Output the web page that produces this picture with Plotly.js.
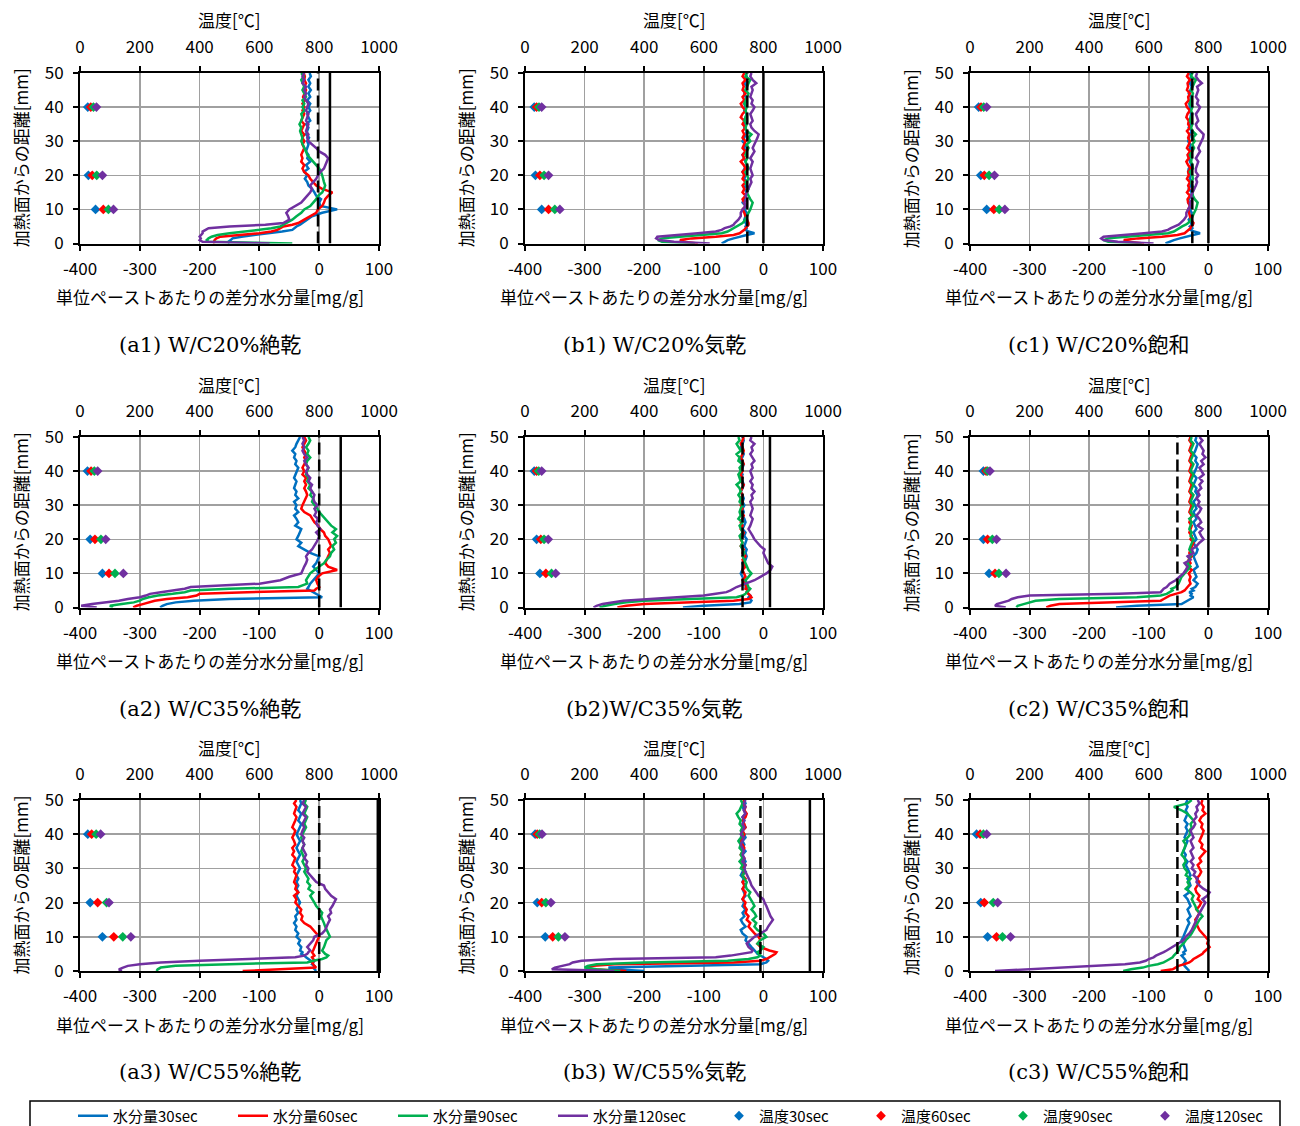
<!DOCTYPE html>
<html><head><meta charset="utf-8">
<script src="https://cdn.plot.ly/plotly-3.0.1.min.js"></script>
<style>body{margin:0;background:#fff}#chart{width:1300px;height:1126px}</style>
</head><body><div id="chart"></div>
<script>
// depth from heated surface [mm]
const depth = [0,0.5,1,1.5,2,2.5,3,3.5,4,4.5,5,5.5,6,
  7,8,9,10,11,12,13,14,15,16,17,
  18,19,20,21,22,23,24,25,26,27,28,
  29,30,31,32,33,34,35,36,37,38,39,
  40,41,42,43,44,45,46,47,48,49,50];
const tempDepth = [10, 20, 40];
const waterNames = ['水分量30sec','水分量60sec','水分量90sec','水分量120sec'];
const tempNames = ['温度30sec','温度60sec','温度90sec','温度120sec'];
const colors = ['#0070C0','#FF0000','#00B050','#7030A0'];
const captions = ['(a1) W/C20%絶乾','(b1) W/C20%気乾','(c1) W/C20%飽和',
                  '(a2) W/C35%絶乾','(b2)W/C35%気乾','(c2) W/C35%飽和',
                  '(a3) W/C55%絶乾','(b3) W/C55%気乾','(c3) W/C55%飽和'];
const topTitle = '温度[℃]';
const bottomTitle = '単位ペーストあたりの差分水分量[mg/g]';
const leftTitle = '加熱面からの距離[mm]';
const xTicksBottom = [-400,-300,-200,-100,0,100];
const xTicksTop = [0,200,400,600,800,1000];
const yTicks = [0,10,20,30,40,50];
// reference vertical lines [mg/g]
const refDash = [-2,-27,-27,0,-35,-52,0,-5,-52];
const refSolid = [18,0,0,36,11,0,98,78,0];
const refDepth = [0,50];

// ---------- a1 ----------
const a1_w30 = [-150,-152,-148,-145,-130,-105,-85,-62,-45,-42,-38,-32,-28,
 -20,-12,5,30,2,0,3,-5,-8,-12,-18,
 -20,-24,-20,-25,-18,-22,-15,-20,-18,-22,-20,
 -18,-20,-17,-22,-20,-18,-22,-15,-18,-20,-15,
 -18,-15,-20,-15,-18,-14,-18,-15,-18,-14,-16];
const a1_w60 = [-175,-176,-175,-172,-165,-130,-100,-80,-70,-65,-60,-45,-35,
 -25,-15,-5,-2,5,8,10,15,22,5,-5,
 -10,-15,-18,-25,-28,-25,-30,-28,-30,-28,-25,
 -28,-25,-28,-25,-30,-27,-25,-30,-28,-25,-28,
 -25,-28,-24,-27,-25,-22,-25,-22,-25,-24,-26];
const a1_w90 = [-45,-185,-188,-185,-180,-170,-150,-120,-100,-80,-65,-60,-55,
 -45,-38,-30,-25,-15,-10,-5,-2,5,8,10,
 8,7,5,3,0,-5,-10,-15,-20,-22,-25,
 -28,-30,-28,-30,-32,-30,-33,-30,-28,-30,-25,
 -28,-25,-28,-22,-25,-28,-25,-28,-30,-26,-30];
const a1_w120 = [-83,-195,-200,-198,-200,-198,-195,-195,-190,-185,-150,-90,-60,
 -50,-52,-55,-50,-40,-30,-25,-20,-15,-12,-15,
 -10,-5,-2,2,8,10,12,15,10,0,-5,
 -12,-18,-20,-18,-22,-20,-18,-22,-20,-18,-22,
 -20,-18,-22,-25,-22,-25,-22,-28,-25,-28,-25];
const a1_t30 = [52,28,26], a1_t60 = [78,41,36], a1_t90 = [95,56,45], a1_t120 = [112,75,55];

// ---------- b1 ----------
const b1_w30 = [-70,-65,-60,-50,-40,-28,-15,-25,-30,-28,-30,-28,-30,
 -32,-30,-28,-32,-30,-35,-32,-30,-28,-32,-30,
 -28,-32,-30,-35,-32,-28,-30,-32,-35,-30,-32,
 -30,-35,-32,-30,-28,-32,-30,-32,-30,-28,-32,
 -30,-32,-28,-30,-32,-30,-28,-32,-30,-28,-30];
const b1_w60 = [-110,-135,-140,-120,-80,-50,-40,-35,-32,-30,-28,-25,-25,
 -28,-30,-32,-35,-30,-33,-35,-30,-35,-32,-35,
 -30,-35,-32,-35,-30,-33,-38,-32,-35,-30,-35,
 -32,-30,-35,-32,-35,-30,-35,-32,-38,-35,-30,
 -35,-38,-32,-35,-30,-35,-33,-35,-30,-35,-32];
const b1_w90 = [-115,-170,-177,-170,-140,-100,-70,-60,-55,-52,-45,-40,-35,
 -30,-28,-25,-22,-20,-18,-22,-25,-28,-25,-28,
 -30,-25,-28,-30,-25,-28,-30,-27,-30,-28,-25,
 -28,-22,-25,-20,-28,-30,-28,-32,-30,-28,-30,
 -28,-32,-30,-28,-25,-30,-28,-25,-22,-30,-28];
const b1_w120 = [-90,-150,-175,-180,-178,-150,-110,-80,-70,-65,-55,-50,-48,
 -42,-38,-38,-35,-30,-32,-28,-30,-28,-25,-22,
 -20,-22,-18,-20,-22,-20,-18,-22,-18,-15,-18,
 -15,-12,-10,-8,-15,-20,-22,-18,-20,-22,-18,
 -15,-20,-18,-22,-20,-18,-20,-12,-18,-22,-20];
const b1_t30 = [56,35,31], b1_t60 = [79,50,39], b1_t90 = [100,64,47], b1_t120 = [117,79,56];

// ---------- c1 ----------
const c1_w30 = [-72,-66,-58,-48,-38,-26,-14,-24,-30,-27,-31,-28,-29,
 -33,-29,-28,-31,-30,-34,-33,-29,-28,-33,-30,
 -27,-31,-30,-34,-33,-28,-31,-32,-34,-30,-31,
 -30,-34,-32,-31,-28,-33,-30,-31,-30,-29,-32,
 -31,-32,-29,-30,-33,-30,-28,-31,-30,-29,-31];
const c1_w60 = [-108,-136,-142,-118,-78,-52,-40,-36,-33,-30,-29,-26,-25,
 -29,-31,-32,-34,-31,-34,-35,-31,-36,-32,-34,
 -31,-36,-33,-34,-30,-34,-37,-33,-35,-31,-36,
 -33,-31,-34,-32,-36,-31,-34,-33,-37,-35,-31,
 -36,-38,-33,-34,-31,-36,-34,-35,-31,-36,-33];
const c1_w90 = [-112,-168,-176,-168,-138,-98,-68,-58,-54,-50,-44,-38,-34,
 -29,-27,-24,-21,-19,-18,-23,-26,-27,-24,-27,
 -29,-26,-27,-31,-26,-27,-29,-28,-31,-27,-24,
 -27,-23,-26,-21,-27,-29,-27,-31,-29,-27,-29,
 -27,-31,-29,-27,-26,-29,-27,-24,-21,-29,-27];
const c1_w120 = [-92,-152,-176,-180,-176,-148,-108,-78,-68,-63,-55,-50,-47,
 -41,-37,-37,-34,-31,-31,-27,-29,-27,-24,-21,
 -19,-21,-17,-21,-21,-19,-17,-21,-17,-14,-17,
 -14,-11,-9,-8,-14,-19,-21,-17,-19,-21,-17,
 -14,-19,-17,-21,-19,-17,-19,-11,-17,-21,-19];
const c1_t30 = [56,36,29], c1_t60 = [80,48,37], c1_t90 = [98,64,46], c1_t120 = [117,82,56];

// ---------- a2 ----------
const a2_w30 = [-266,-262,-255,-240,-210,-150,5,0,-5,-10,-15,-20,-18,
 -15,-10,-5,0,-5,-10,-5,-2,0,-15,-25,
 -35,-30,-38,-35,-32,-30,-40,-35,-38,-42,-35,
 -40,-38,-42,-35,-40,-38,-42,-40,-38,-42,-40,
 -38,-35,-40,-38,-42,-40,-45,-40,-38,-35,-32];
const a2_w60 = [-311,-305,-295,-285,-275,-255,-220,-205,-200,-120,-8,-5,0,
 -3,-5,-2,5,30,15,10,12,15,18,15,
 20,18,15,10,8,2,-2,-8,-12,-15,-25,
 -30,-28,-25,-22,-20,-22,-25,-22,-25,-22,-28,
 -25,-28,-25,-22,-25,-22,-25,-28,-25,-22,-25];
const a2_w90 = [-345,-350,-330,-310,-300,-295,-285,-270,-245,-225,-215,-150,-35,
 -20,-22,-18,-15,-8,0,8,12,18,20,25,
 22,28,25,30,22,28,20,15,10,5,0,
 -3,-8,-12,-10,-15,-12,-18,-15,-20,-18,-22,
 -20,-18,-22,-20,-15,-20,-18,-22,-18,-15,-18];
const a2_w120 = [-372,-398,-380,-355,-335,-320,-300,-290,-283,-265,-240,-225,-215,
 -100,-65,-50,-30,-28,-25,-22,-20,-22,-18,-12,
 -8,-5,-2,0,-5,2,-3,-5,-2,-8,-5,
 -8,-3,-8,-10,-8,-12,-15,-12,-18,-15,-20,
 -22,-18,-22,-25,-20,-25,-28,-25,-28,-25,-28];
const a2_t30 = [75,34,25], a2_t60 = [97,50,37], a2_t90 = [117,70,48], a2_t120 = [145,86,59];

// ---------- b2 ----------
const b2_w30 = [-135,-100,-40,-22,-20,-22,-25,-22,-25,-28,-25,-28,-30,
 -28,-32,-35,-38,-35,-33,-35,-30,-28,-30,-28,
 -32,-30,-28,-32,-30,-35,-33,-30,-32,-35,-33,
 -35,-32,-35,-33,-35,-38,-35,-33,-35,-38,-35,
 -38,-35,-33,-38,-35,-33,-35,-38,-35,-33,-35];
const b2_w60 = [-245,-230,-200,-130,-50,-25,-20,-22,-25,-28,-25,-30,-28,
 -32,-35,-30,-33,-35,-30,-33,-35,-30,-35,-33,
 -38,-35,-38,-35,-33,-38,-35,-38,-35,-33,-38,
 -35,-38,-35,-38,-35,-38,-35,-33,-38,-35,-38,
 -35,-38,-33,-35,-38,-35,-33,-35,-38,-35,-33];
const b2_w90 = [-275,-265,-250,-230,-200,-120,-45,-35,-30,-28,-25,-22,-25,
 -28,-30,-25,-20,-25,-28,-30,-32,-35,-32,-35,
 -38,-35,-38,-40,-35,-38,-40,-35,-42,-38,-40,
 -38,-35,-40,-38,-42,-38,-40,-45,-38,-40,-42,
 -38,-40,-35,-42,-40,-45,-38,-42,-45,-40,-42];
const b2_w120 = [-285,-280,-270,-255,-235,-190,-140,-100,-80,-62,-55,-50,-45,
 -30,-15,-5,5,12,15,8,5,3,0,2,
 -5,-10,-15,-18,-22,-25,-22,-20,-18,-22,-20,
 -18,-20,-22,-18,-20,-15,-20,-18,-22,-18,-20,
 -22,-18,-20,-15,-18,-22,-18,-20,-15,-22,-20];
const b2_t30 = [50,39,31], b2_t60 = [70,53,39], b2_t90 = [89,64,46], b2_t120 = [103,78,56];

// ---------- c2 ----------
const c2_w30 = [-155,-120,-45,-40,-35,-30,-25,-30,-28,-32,-25,-28,-22,
 -18,-25,-20,-22,-25,-18,-20,-22,-25,-20,-18,
 -22,-25,-20,-22,-25,-20,-22,-25,-20,-22,-25,
 -20,-22,-25,-20,-18,-22,-20,-25,-22,-20,-25,
 -22,-20,-18,-22,-20,-25,-22,-20,-18,-22,-20];
const c2_w60 = [-272,-265,-250,-180,-80,-75,-70,-65,-55,-45,-40,-38,-35,
 -30,-32,-30,-33,-28,-35,-30,-33,-28,-32,-30,
 -28,-25,-30,-28,-32,-30,-28,-32,-30,-28,-32,
 -30,-28,-32,-30,-28,-32,-30,-28,-32,-30,-28,
 -32,-30,-28,-32,-30,-28,-32,-30,-28,-32,-30];
const c2_w90 = [-322,-320,-310,-300,-290,-250,-120,-80,-70,-65,-60,-62,-55,
 -50,-48,-45,-40,-35,-30,-35,-32,-30,-28,-32,
 -30,-28,-25,-30,-28,-32,-30,-28,-32,-25,-30,
 -28,-25,-30,-28,-25,-30,-28,-25,-30,-28,-25,
 -30,-28,-25,-30,-28,-25,-30,-28,-25,-30,-28];
const c2_w120 = [-340,-358,-355,-345,-335,-330,-320,-300,-150,-80,-78,-75,-70,
 -65,-55,-48,-42,-38,-35,-40,-30,-35,-25,-28,
 -20,-15,-8,-12,-15,-10,-18,-12,-15,-20,-15,
 -12,-18,-15,-20,-15,-18,-12,-15,-10,-15,-8,
 -12,-15,-8,-12,-5,-10,-8,-12,-15,-10,-15];
const c2_t30 = [64,45,45], c2_t60 = [84,59,54], c2_t90 = [97,75,59], c2_t120 = [121,89,67];

// ---------- a3 ----------
const a3_w30 = [-5,-8,-10,-8,-12,-10,-15,-18,-22,-25,-30,-28,-32,
 -30,-35,-32,-38,-35,-40,-38,-42,-38,-40,-35,
 -38,-35,-32,-35,-38,-35,-38,-35,-38,-35,-38,
 -35,-32,-35,-38,-35,-32,-35,-38,-35,-32,-35,
 -38,-35,-32,-30,-35,-32,-30,-35,-32,-30,-32];
const a3_w60 = [-128,-60,-5,-8,-10,-12,-8,-10,-12,-8,-10,-12,-10,
 -8,-5,-3,0,-5,-10,-15,-25,-30,-28,-32,
 -30,-35,-40,-38,-42,-35,-40,-38,-42,-40,-38,
 -42,-40,-45,-42,-40,-45,-42,-45,-40,-42,-45,
 -42,-40,-45,-42,-40,-38,-42,-40,-38,-42,-38];
const a3_w90 = [-272,-270,-265,-240,-150,-20,-10,5,12,15,10,8,5,
 8,10,12,18,15,12,10,8,5,3,5,
 0,-5,-8,-12,-15,-10,-18,-15,-20,-18,-22,
 -25,-22,-25,-28,-25,-28,-30,-28,-25,-28,-30,
 -28,-25,-22,-25,-22,-20,-25,-22,-20,-25,-22];
const a3_w120 = [-330,-335,-328,-320,-300,-265,-200,-100,-40,-25,-20,-18,-15,
 -20,-15,-10,-8,5,10,12,15,18,15,20,
 18,22,25,28,20,15,10,8,-5,-10,-15,
 -20,-18,-22,-20,-25,-22,-25,-28,-25,-28,-25,
 -30,-28,-25,-28,-25,-22,-28,-25,-22,-28,-25];
const a3_t30 = [75,34,26], a3_t60 = [113,59,39], a3_t90 = [143,89,54], a3_t120 = [170,97,69];

// ---------- b3 ----------
const b3_w30 = [-200,-250,-260,-100,-5,5,8,5,0,-5,-10,-12,-15,
 -20,-25,-30,-28,-35,-38,-30,-35,-38,-32,-35,
 -30,-35,-32,-35,-30,-33,-35,-30,-35,-33,-38,
 -35,-32,-35,-30,-33,-35,-30,-35,-32,-35,-30,
 -33,-35,-30,-35,-32,-35,-30,-33,-35,-30,-32];
const b3_w60 = [-230,-290,-295,-285,-250,-50,-5,5,10,15,20,22,10,
 -5,-10,-5,-8,-15,-20,-25,-22,-28,-25,-30,
 -28,-32,-30,-35,-32,-30,-35,-32,-35,-30,-35,
 -32,-35,-30,-35,-32,-38,-35,-32,-35,-38,-35,
 -32,-35,-30,-32,-35,-30,-28,-32,-30,-35,-32];
const b3_w90 = [-240,-280,-300,-295,-280,-200,-60,-25,-10,-5,-8,-10,-5,
 0,-10,-5,5,0,-10,-15,-12,-18,-12,-15,
 -20,-15,-18,-22,-25,-22,-28,-30,-28,-32,-35,
 -30,-38,-35,-40,-35,-38,-35,-40,-38,-42,-38,
 -35,-38,-35,-40,-38,-42,-45,-40,-38,-35,-38];
const b3_w120 = [-250,-355,-350,-338,-325,-320,-305,-250,-80,-55,-35,-20,-18,
 -25,-28,-22,-15,-5,5,8,12,16,12,10,
 8,5,2,0,-8,-12,-15,-20,-22,-25,-28,
 -30,-32,-30,-35,-32,-35,-33,-35,-38,-35,-33,
 -38,-35,-32,-35,-32,-35,-30,-33,-30,-33,-30];
const b3_t30 = [68,41,34], b3_t60 = [93,56,41], b3_t90 = [112,70,49], b3_t120 = [134,87,57];

// ---------- c3 ----------
const c3_w30 = [-32,-35,-38,-40,-42,-40,-38,-40,-42,-45,-40,-42,-38,
 -40,-42,-45,-42,-40,-38,-35,-32,-35,-30,-32,
 -35,-30,-32,-35,-40,-32,-35,-30,-32,-35,-30,
 -32,-35,-38,-35,-40,-38,-42,-40,-38,-35,-40,
 -38,-35,-38,-35,-40,-38,-35,-38,-35,-38,-35];
const c3_w60 = [-80,-60,-55,-50,-40,-32,-28,-25,-20,-15,-10,-8,-5,
 2,-2,0,-5,-10,-15,-18,-20,-22,-18,-15,
 -20,-15,-12,-18,-15,-20,-22,-18,-15,-20,-15,
 -12,-15,-18,-12,-15,-10,-5,-12,-10,-15,-12,
 -10,-8,-12,-10,-15,-12,-5,-10,-8,-12,-10];
const c3_w90 = [-143,-130,-110,-100,-85,-75,-70,-65,-60,-58,-55,-52,-50,
 -48,-42,-38,-32,-28,-25,-22,-18,-15,-10,-15,
 -20,-22,-25,-28,-25,-30,-38,-32,-35,-30,-38,
 -35,-40,-42,-38,-40,-45,-42,-40,-38,-42,-35,
 -30,-32,-28,-30,-25,-30,-35,-45,-58,-35,-28];
const c3_w120 = [-358,-300,-240,-180,-140,-115,-105,-100,-92,-88,-80,-75,-70,
 -60,-50,-42,-38,-32,-28,-25,-22,-20,-18,-15,
 -12,-8,-5,-10,-2,2,-8,-15,-20,-18,-25,
 -22,-28,-25,-30,-25,-28,-30,-25,-28,-30,-25,
 -28,-30,-25,-22,-25,-20,-22,-18,-20,-15,-18];
const c3_t30 = [59,36,22], c3_t60 = [89,48,34], c3_t90 = [109,78,45], c3_t120 = [136,93,56];

const waterSets = [
  [a1_w30,a1_w60,a1_w90,a1_w120],[b1_w30,b1_w60,b1_w90,b1_w120],[c1_w30,c1_w60,c1_w90,c1_w120],
  [a2_w30,a2_w60,a2_w90,a2_w120],[b2_w30,b2_w60,b2_w90,b2_w120],[c2_w30,c2_w60,c2_w90,c2_w120],
  [a3_w30,a3_w60,a3_w90,a3_w120],[b3_w30,b3_w60,b3_w90,b3_w120],[c3_w30,c3_w60,c3_w90,c3_w120]];
const tempSets = [
  [a1_t30,a1_t60,a1_t90,a1_t120],[b1_t30,b1_t60,b1_t90,b1_t120],[c1_t30,c1_t60,c1_t90,c1_t120],
  [a2_t30,a2_t60,a2_t90,a2_t120],[b2_t30,b2_t60,b2_t90,b2_t120],[c2_t30,c2_t60,c2_t90,c2_t120],
  [a3_t30,a3_t60,a3_t90,a3_t120],[b3_t30,b3_t60,b3_t90,b3_t120],[c3_t30,c3_t60,c3_t90,c3_t120]];

waterSets.forEach((s,i)=>s.forEach((a,j)=>{ if(a.length!==depth.length) console.error('len',i,j,a.length); }));

// ---------- layout geometry (pixels) ----------
const FW = 1300, FH = 1126;
const colL = [80,525,970], colR = [379,823,1268];
const rowT = [73,437,800], rowB = [243.5,607.5,971];
const FONT = '"Noto Sans CJK JP", "Noto Sans", sans-serif';
const gridColor = '#a0a0a0';

const traces = [];
const legendBase = {orientation:'h', xanchor:'left', yanchor:'middle', y:1-1116/FH,
  borderwidth:0, bgcolor:'rgba(0,0,0,0)', font:{size:15, family:FONT},
  entrywidthmode:'pixels', tracegroupgap:0};
const layout = {
  width: FW, height: FH, margin:{l:0,r:0,t:0,b:0, autoexpand:false},
  paper_bgcolor:'#fff', plot_bgcolor:'#fff',
  font:{family:FONT, color:'#000', size:17},
  showlegend:true, hovermode:false,
  legend: Object.assign({}, legendBase, {x:73/FW, entrywidth:115}),
  legend2: Object.assign({}, legendBase, {x:719/FW, entrywidth:97}),
  annotations:[], shapes:[]
};
layout.shapes.push({type:'rect', xref:'paper', yref:'paper', x0:30/FW, x1:1280/FW,
  y0:1-1130/FH, y1:1-1101/FH, line:{color:'#000', width:1.5}, fillcolor:'rgba(0,0,0,0)'});

function axName(prefix, n){ return prefix + (n===1 ? '' : n); }

for (let p = 0; p < 9; p++) {
  const r = Math.floor(p/3), c = p % 3;
  const nb = 2*p+1, nt = 2*p+2, ny = p+1;
  const xb = 'x'+(nb===1?'':nb), xt = 'x'+nt, ya = 'y'+(ny===1?'':ny);
  const common = {showline:true, linecolor:'#000', linewidth:2, zeroline:false,
    ticks:'outside', ticklen:5, tickwidth:2, tickcolor:'#000',
    tickfont:{size:17, family:FONT, color:'#000'}, fixedrange:true};
  layout[axName('xaxis',nb)] = Object.assign({}, common, {
    domain:[colL[c]/FW, colR[c]/FW], anchor:ya, range:[-400,100],
    tickvals:xTicksBottom, ticktext:xTicksBottom.map(String),
    showgrid:true, gridcolor:gridColor, gridwidth:1.5, ticklabelstandoff:4});
  layout[axName('xaxis',nt)] = Object.assign({}, common, {
    overlaying:xb, side:'top', anchor:ya, range:[0,1000],
    tickvals:xTicksTop, ticktext:xTicksTop.map(String),
    showgrid:false, ticklabelstandoff:6});
  layout[axName('yaxis',ny)] = Object.assign({}, common, {
    domain:[1-rowB[r]/FH, 1-rowT[r]/FH], anchor:xb, range:[0,50],
    tickvals:yTicks, ticktext:yTicks.map(String), mirror:true,
    showgrid:true, gridcolor:gridColor, gridwidth:1.5, ticklabelstandoff:6});

  // water content lines
  waterSets[p].forEach((vals, k) => {
    traces.push({type:'scatter', mode:'lines', x:vals, y:depth, xaxis:xb, yaxis:ya,
      name:waterNames[k], legend:'legend', showlegend:p===0,
      line:{color:colors[k], width:2.5}});
  });
  // reference vertical lines
  traces.push({type:'scatter', mode:'lines', x:[refDash[p],refDash[p]], y:refDepth,
    xaxis:xb, yaxis:ya, showlegend:false, line:{color:'#000', width:2.5, dash:'12px,5px'}});
  traces.push({type:'scatter', mode:'lines', x:[refSolid[p],refSolid[p]], y:refDepth,
    xaxis:xb, yaxis:ya, showlegend:false, line:{color:'#000', width:2.5}});
  // temperature markers (top axis)
  tempSets[p].forEach((vals, k) => {
    traces.push({type:'scatter', mode:'markers', x:vals, y:tempDepth, xaxis:xt, yaxis:ya,
      name:tempNames[k], legend:'legend2', showlegend:p===0,
      marker:{symbol:'diamond', size:7.5, color:colors[k], line:{width:0}}});
  });

  const cx = (colL[c]+colR[c])/2;
  layout.annotations.push({xref:'paper', yref:'paper', x:cx/FW, y:1-(rowT[r]-53)/FH,
    text:topTitle, showarrow:false, xanchor:'center', yanchor:'middle', font:{size:17, family:FONT}});
  layout.annotations.push({xref:'paper', yref:'paper', x:(cx-20)/FW, y:1-(rowB[r]+53)/FH,
    text:bottomTitle, showarrow:false, xanchor:'center', yanchor:'middle', font:{size:17, family:FONT}});
  layout.annotations.push({xref:'paper', yref:'paper', x:(colL[c]-60)/FW, y:1-((rowT[r]+rowB[r])/2)/FH,
    text:leftTitle, textangle:-90, showarrow:false, xanchor:'center', yanchor:'middle', font:{size:17, family:FONT}});
  layout.annotations.push({xref:'paper', yref:'paper', x:(cx-20)/FW, y:1-(rowB[r]+101)/FH,
    text:captions[p], showarrow:false, xanchor:'center', yanchor:'middle',
    font:{size:21, family:'"DejaVu Serif", "Liberation Serif", "Noto Sans CJK JP", serif', color:'#000'}});
}

Plotly.newPlot('chart', traces, layout, {displayModeBar:false, staticPlot:true});
</script>
</body></html>
